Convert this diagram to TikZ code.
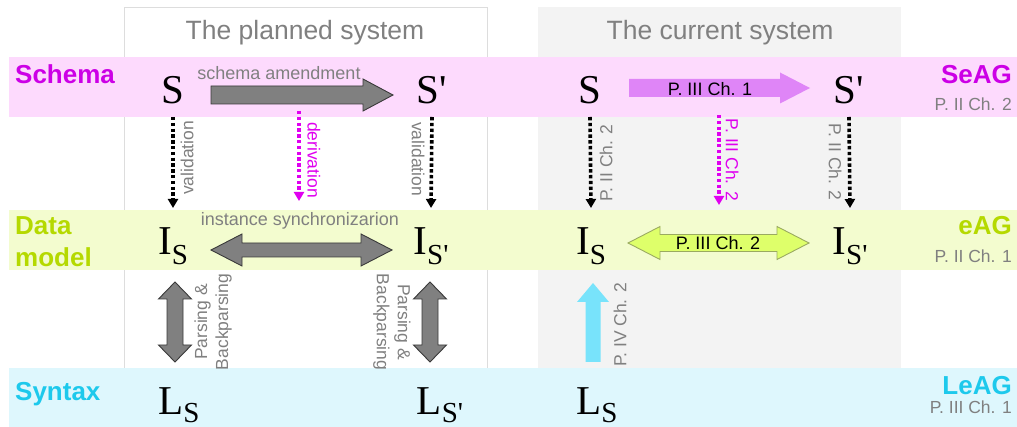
\documentclass[tikz,border=0pt]{standalone}
\usepackage{fontspec}
\setmainfont{Liberation Sans}
\newfontfamily\serifmath{Liberation Serif}
\usetikzlibrary{arrows.meta,calc}
\definecolor{pinkband}{HTML}{FDDAFD}
\definecolor{greenband}{HTML}{F3FCCF}
\definecolor{cyanband}{HTML}{DEF7FD}
\definecolor{curbox}{HTML}{F3F3F3}
\definecolor{boxline}{HTML}{DDDDDD}
\definecolor{txtgray}{HTML}{808080}
\definecolor{schemacol}{HTML}{CC00E6}
\definecolor{derivcol}{HTML}{E000F0}
\definecolor{datacol}{HTML}{B5D900}
\definecolor{syncol}{HTML}{1DC9EC}
\definecolor{violetfill}{HTML}{DF85F7}
\definecolor{limefill}{HTML}{DEFF6A}
\definecolor{limeline}{HTML}{9AAA60}
\definecolor{cyanfill}{HTML}{78E3FB}
\definecolor{grayfill}{HTML}{808080}
\definecolor{grayline}{HTML}{3A3A3A}
% block arrows: style, from, to, shaft half width, head half width, head length
\newcommand\hsinglearrow[6]{%
  \path[#1] let \p1=(#2), \p2=(#3) in
   ({\x1},{\y1+#4}) -- ({\x2-#6},{\y1+#4}) -- ({\x2-#6},{\y1+#5}) -- ({\x2},{\y1})
   -- ({\x2-#6},{\y1-#5}) -- ({\x2-#6},{\y1-#4}) -- ({\x1},{\y1-#4}) -- cycle;}
\newcommand\hdoublearrow[6]{%
  \path[#1] let \p1=(#2), \p2=(#3) in
   ({\x1},{\y1}) -- ({\x1+#6},{\y1+#5}) -- ({\x1+#6},{\y1+#4}) -- ({\x2-#6},{\y1+#4})
   -- ({\x2-#6},{\y1+#5}) -- ({\x2},{\y1}) -- ({\x2-#6},{\y1-#5}) -- ({\x2-#6},{\y1-#4})
   -- ({\x1+#6},{\y1-#4}) -- ({\x1+#6},{\y1-#5}) -- cycle;}
\newcommand\vdoublearrow[6]{%
  \path[#1] let \p1=(#2), \p2=(#3) in
   ({\x1},{\y1}) -- ({\x1+#5},{\y1-#6}) -- ({\x1+#4},{\y1-#6}) -- ({\x1+#4},{\y2+#6})
   -- ({\x1+#5},{\y2+#6}) -- ({\x1},{\y2}) -- ({\x1-#5},{\y2+#6}) -- ({\x1-#4},{\y2+#6})
   -- ({\x1-#4},{\y1-#6}) -- ({\x1-#5},{\y1-#6}) -- cycle;}
\newcommand\vuparrow[6]{%
  \path[#1] let \p1=(#2), \p2=(#3) in
   ({\x1-#4},{\y1}) -- ({\x1-#4},{\y2-#6}) -- ({\x1-#5},{\y2-#6}) -- ({\x1},{\y2})
   -- ({\x1+#5},{\y2-#6}) -- ({\x1+#4},{\y2-#6}) -- ({\x1+#4},{\y1}) -- cycle;}
\newcommand\subs[2][10pt]{\raisebox{-#1}{\fontsize{29}{29}\selectfont #2}}
\newcommand\prm{\textquotesingle}
\tikzset{
  bigm/.style={anchor=base, inner sep=0pt, font=\serifmath\fontsize{41}{41}\selectfont},
  rowlbl/.style={anchor=base west, inner sep=0pt, align=left, font=\bfseries\fontsize{26}{32}\selectfont},
  aglbl/.style={anchor=base east, inner sep=0pt, font=\bfseries\fontsize{26}{30}\selectfont},
  reflbl/.style={anchor=base east, inner sep=0pt, text=txtgray, font=\fontsize{17.5}{21}\selectfont},
  title/.style={anchor=base, inner sep=0pt, text=txtgray, font=\fontsize{26.5}{30}\selectfont},
  smallgray/.style={inner sep=0pt, text=txtgray, font=\fontsize{17.5}{21}\selectfont},
  dotblack/.style={draw=black, line width=3.6pt, dash pattern=on 3.4pt off 2.4pt, -{Triangle[width=10pt,length=9pt]}},
  dotmag/.style={draw=derivcol, line width=3.6pt, dash pattern=on 3.4pt off 2.4pt, -{Triangle[width=10pt,length=9pt]}},
  grayblock/.style={fill=grayfill, draw=grayline, line width=0.9pt, line join=miter},
  violetblock/.style={fill=violetfill},
  limeblock/.style={fill=limefill, draw=limeline, line width=0.9pt, line join=miter},
  cyanblock/.style={fill=cyanfill},
}
\begin{document}
\begin{tikzpicture}[x=1pt,y=-1pt]
\useasboundingbox (0,0) rectangle (1017,427);
% column boxes
\draw[boxline, fill=white, line width=0.8pt] (124,7) rectangle (487,430);
\fill[curbox] (538,7) rectangle (901,430);
% bands
\fill[pinkband] (9,57) rectangle (1017,117);
\fill[greenband] (9,210) rectangle (1017,270);
\fill[cyanband] (9,368) rectangle (1017,427);
% titles
\node[title] (t1) at (305,40) {The planned system};
\node[title] (t2) at (720,40) {The current system};
% row labels
\node[rowlbl, text=schemacol] (rs) at (15,84) {Schema};
\node[rowlbl, text=datacol] (rd) at (15,267) {Data\\model};
\node[rowlbl, text=syncol] (rx) at (15,400) {Syntax};
\node[aglbl, text=schemacol] (ag1) at (1012,84) {SeAG};
\node[reflbl] (ag1r) at (1012,111) {P. II Ch. 2};
\node[aglbl, text=datacol] (ag2) at (1012,235) {eAG};
\node[reflbl] (ag2r) at (1012,263) {P. II Ch. 1};
\node[aglbl, text=syncol] (ag3) at (1012,394) {LeAG};
\node[reflbl] (ag3r) at (1012,413) {P. III Ch. 1};
% math nodes, planned system
\node[bigm] (pS) at (173,104) {S};
\node[bigm] (pSp) at (432,104) {S\prm};
\node[bigm] (pI) at (173,255) {I\subs{S}};
\node[bigm] (pIp) at (431,255) {I\subs{S\prm}};
\node[bigm] (pL) at (179,414) {L\subs[8pt]{S}};
\node[bigm] (pLp) at (440,414) {L\subs[8pt]{S\prm}};
% math nodes, current system
\node[bigm] (cS) at (590,104) {S};
\node[bigm] (cSp) at (849,104) {S\prm};
\node[bigm] (cI) at (591,255) {I\subs{S}};
\node[bigm] (cIp) at (850,255) {I\subs{S\prm}};
\node[bigm] (cL) at (597,414) {L\subs[8pt]{S}};
% block arrow end points
\coordinate (amA) at (211,95);  \coordinate (amB) at (393,95);
\coordinate (isA) at (211,250); \coordinate (isB) at (392,250);
\coordinate (ppA) at (175,282); \coordinate (ppB) at (175,362);
\coordinate (pqA) at (430,282); \coordinate (pqB) at (430,362);
\coordinate (c1A) at (629,88);  \coordinate (c1B) at (810,88);
\coordinate (c2A) at (628,243); \coordinate (c2B) at (809,243);
\coordinate (c4A) at (593,362); \coordinate (c4B) at (593,283);
\coordinate (dv1) at (299,111); \coordinate (dv2) at (299,201);
\coordinate (cm1) at (719,115); \coordinate (cm2) at (719,205);
% planned system arrows
\hsinglearrow{grayblock}{amA}{amB}{9pt}{16pt}{30pt}
\node[smallgray, anchor=base, font=\fontsize{18}{21}\selectfont] (lam) at (279,80) {schema amendment};
\hdoublearrow{grayblock}{isA}{isB}{7pt}{16pt}{31pt}
\node[smallgray, anchor=base, font=\fontsize{18}{21}\selectfont] (lis) at (300,226) {instance synchronizarion};
\vdoublearrow{grayblock}{ppA}{ppB}{8pt}{16.5pt}{17pt}
\vdoublearrow{grayblock}{pqA}{pqB}{8pt}{16.5pt}{17pt}
\node[smallgray, rotate=90, align=center] (lpp) at (213,322) {Parsing \&\\Backparsing};
\node[smallgray, rotate=-90, align=center] (lpq) at (392,322) {Parsing \&\\Backparsing};
\draw[dotblack] ([yshift=-13pt]pS.base) -- ([yshift=47pt]pI.base);
\draw[dotblack] ([yshift=-13pt]pSp.base) -- ([yshift=47pt]pIp.base);
\draw[dotmag] (dv1) -- (dv2);
\node[smallgray, rotate=90] (lv1) at (187,158) {validation};
\node[smallgray, rotate=-90, text=derivcol] (ldv) at (314,160) {derivation};
\node[smallgray, rotate=-90] (lv2) at (418,159) {validation};
% current system arrows
\hsinglearrow{violetblock}{c1A}{c1B}{9pt}{15.5pt}{30pt}
\node[inner sep=0pt, anchor=base, font=\fontsize{18}{21}\selectfont] (lc1) at (710,96) {P. III Ch. 1};
\hdoublearrow{limeblock}{c2A}{c2B}{8.5pt}{16.5pt}{32pt}
\node[inner sep=0pt, anchor=base, font=\fontsize{18}{21}\selectfont] (lc2) at (718,250) {P. III Ch. 2};
\vuparrow{cyanblock}{c4A}{c4B}{7.5pt}{16pt}{19pt}
\node[smallgray, rotate=90] (lc4) at (620,325) {P. IV Ch. 2};
\draw[dotblack] ([yshift=-13pt]cS.base) -- ([yshift=47pt]cI.base);
\draw[dotblack] ([yshift=-13pt]cSp.base) -- ([yshift=47pt]cIp.base);
\draw[dotmag] (cm1) -- (cm2);
\node[smallgray, rotate=90] (lc5) at (606,163) {P. II Ch. 2};
\node[smallgray, rotate=-90, text=derivcol] (lc6) at (732,160) {P. III Ch. 2};
\node[smallgray, rotate=-90] (lc7) at (835,162) {P. II Ch. 2};
\end{tikzpicture}
\end{document}
